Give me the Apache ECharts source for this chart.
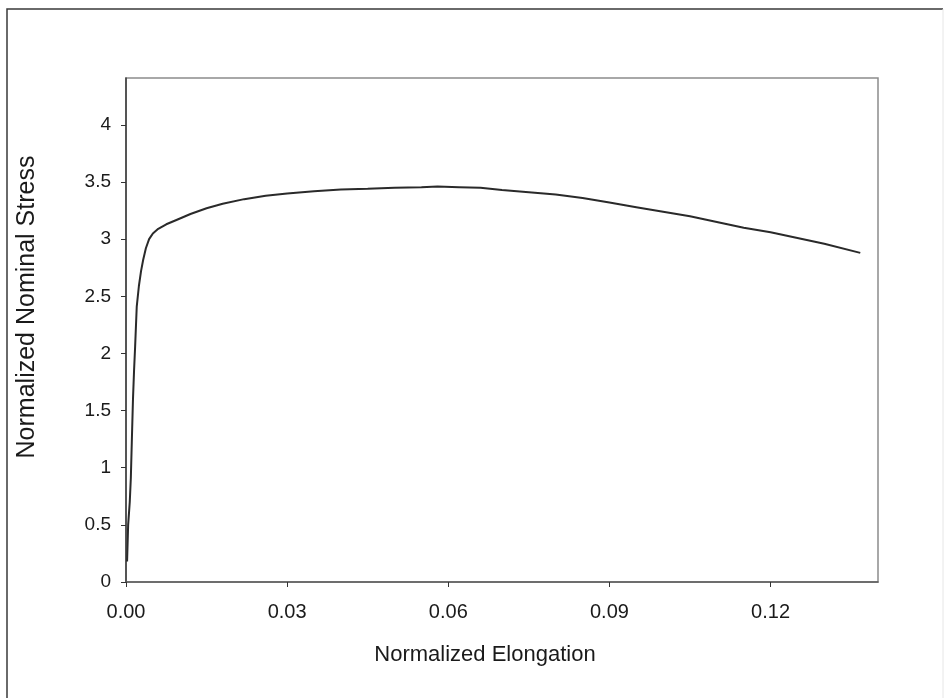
<!DOCTYPE html>
<html>
<head>
<meta charset="utf-8">
<script src="https://cdn.jsdelivr.net/npm/echarts@6/dist/echarts.min.js"></script>
<style>
  html, body { margin: 0; padding: 0; background: #fff; }
  #chart { width: 947px; height: 698px; }
</style>
</head>
<body>
<div id="chart"></div>
<script>
// Tensile test curve: normalized elongation vs normalized nominal stress
const elongation = [0.0002, 0.0004, 0.0007, 0.0009, 0.0011, 0.0013, 0.0015, 0.0017, 0.0020,
  0.0024, 0.0028, 0.0032, 0.0037, 0.0043, 0.0050, 0.0060, 0.0075, 0.0095, 0.012, 0.015,
  0.018, 0.022, 0.026, 0.030, 0.035, 0.040, 0.045, 0.050, 0.055, 0.058, 0.062, 0.066,
  0.070, 0.075, 0.080, 0.085, 0.090, 0.095, 0.100, 0.105, 0.110, 0.115, 0.120, 0.125,
  0.130, 0.1367];
const stress = [0.18, 0.50, 0.70, 0.91, 1.26, 1.60, 1.85, 2.06, 2.41,
  2.59, 2.72, 2.82, 2.92, 3.00, 3.05, 3.09, 3.13, 3.17, 3.22, 3.27,
  3.31, 3.35, 3.38, 3.40, 3.42, 3.435, 3.44, 3.45, 3.455, 3.46, 3.455, 3.45,
  3.43, 3.41, 3.39, 3.36, 3.32, 3.28, 3.24, 3.20, 3.15, 3.10, 3.06, 3.01,
  2.96, 2.88];
const xTicks = [0, 0.03, 0.06, 0.09, 0.12];
const yTicks = [0, 0.5, 1, 1.5, 2, 2.5, 3, 3.5, 4];
const xTitle = 'Normalized Elongation';
const yTitle = 'Normalized Nominal Stress';

const font = 'Liberation Sans, Arial, sans-serif';
const textColor = '#1a1a1a';
const chart = echarts.init(document.getElementById('chart'), null, { renderer: 'canvas' });

chart.setOption({
  backgroundColor: '#ffffff',
  animation: false,
  graphic: [
    // page frame
    { type: 'polyline', shape: { points: [[7, 700], [7, 9], [943, 9]] },
      style: { stroke: '#3a3a3a', lineWidth: 1.5, fill: null } },
    { type: 'line', shape: { x1: 943, y1: 9, x2: 943, y2: 700 },
      style: { stroke: '#e6e6e6', lineWidth: 1 } },
    // axis titles
    { type: 'text', x: 485, y: 655,
      style: { text: xTitle, font: '22px ' + font, fill: textColor, align: 'center', verticalAlign: 'middle' } },
    { type: 'text', x: 27, y: 307, rotation: Math.PI / 2,
      style: { text: yTitle, font: '25px ' + font, fill: textColor, align: 'center', verticalAlign: 'middle' } }
  ],
  grid: {
    left: 126, top: 78, right: 69, bottom: 116,
    show: true, borderColor: '#8c8c8c', borderWidth: 1.5, backgroundColor: 'transparent'
  },
  xAxis: {
    type: 'value', min: 0, max: 0.14,
    axisLine: { show: true, lineStyle: { color: '#5a5a5a', width: 1.5 } },
    axisTick: { show: true, length: 5, customValues: xTicks, lineStyle: { color: '#333' } },
    axisLabel: { customValues: xTicks, margin: 20, fontFamily: font, fontSize: 20, color: textColor,
      formatter: v => v.toFixed(2) },
    splitLine: { show: false }
  },
  yAxis: {
    type: 'value', min: 0, max: 4.41,
    axisLine: { show: true, lineStyle: { color: '#3a3a3a', width: 1.5 } },
    axisTick: { show: true, length: 5, customValues: yTicks, lineStyle: { color: '#333' } },
    axisLabel: { customValues: yTicks, margin: 15, fontFamily: font, fontSize: 19, color: textColor,
      formatter: v => String(v) },
    splitLine: { show: false }
  },
  series: [{
    type: 'line',
    data: elongation.map((x, i) => [x, stress[i]]),
    showSymbol: false,
    lineStyle: { color: '#2a2a2a', width: 2 }
  }]
});
</script>
</body>
</html>
